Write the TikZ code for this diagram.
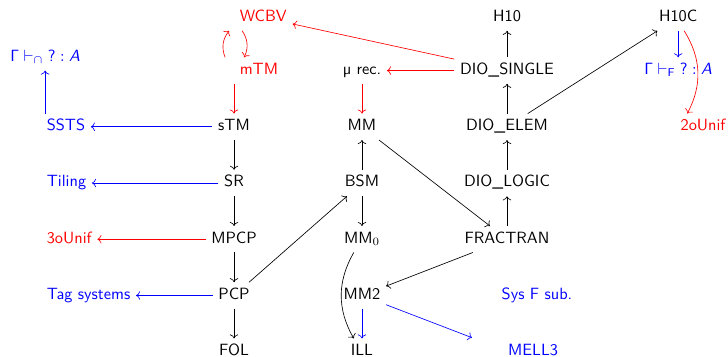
\documentclass[tikz,border=0pt]{standalone}
\usepackage{amsmath,amssymb}
\usepackage{xcolor}
\usepackage{tikz}
\usetikzlibrary{arrows.meta, positioning, calc}

\begin{document}
\begin{tikzpicture}[
    font=\sffamily,
    prob/.style={inner sep=3.33pt, text height=7pt, text depth=2.2pt},
    arr/.style={->},
    rarr/.style={->, red},
    barr/.style={->, blue},
    node distance=34.5pt and 78.5pt, on grid,
]
\useasboundingbox (-143.6pt,-141.2pt) rectangle (303.1pt,77.8pt);

% machines column
\node[prob] (stm) {sTM};
\node[prob, below=of stm] (sr) {SR};
\node[prob, below=of sr] (mpcp) {MPCP};
\node[prob, below=of mpcp] (pcp) {PCP};
\node[prob, below=of pcp] (fol) {FOL};
\node[prob, red, above=of stm, anchor=west] (mtm) {mTM};
\node[prob, red, above=32.5pt of mtm.west, anchor=west] (wcbv) {WCBV};

% left column
\node[prob, blue, left=118.4pt of stm, anchor=west] (ssts) {SSTS};
\node[prob, blue, left=118.4pt of sr, anchor=west] (tiling) {Tiling};
\node[prob, red, left=118.4pt of mpcp, anchor=west] (unif3) {3oUnif};
\node[prob, blue, left=118.4pt of pcp, anchor=west] (tag) {Tag systems};
\node[prob, blue, above=of ssts.west, xshift=2.5pt] (gcap) {$\mathsf{\Gamma}\vdash_{\cap}\textsf{?}:\textsf{\textit{A}}$};

% counter machines
\node[prob, right=of stm] (mm) {MM};
\node[prob, above=of mm] (mu) {µ rec.};
\node[prob, below=of mm] (bsm) {BSM};
\node[prob, below=of bsm] (mmz) {MM$_0$};
\node[prob, below=of mmz] (mm2) {MM2};
\node[prob, below=of mm2] (ill) {ILL};

% diophantine
\node[prob, right=89pt of mm] (dioe) {DIO\_ELEM};
\node[prob, above=of dioe] (dios) {DIO\_SINGLE};
\node[prob, above=32.5pt of dios] (h10) {H10};
\node[prob, below=of dioe] (diol) {DIO\_LOGIC};
\node[prob, below=of diol] (frac) {FRACTRAN};
\node[prob, blue, below right=34.5pt and 18.4pt of frac] (sysf) {Sys F sub.};
\node[prob, blue, below right=69pt and 16pt of frac] (mell) {MELL3};
\coordinate[below left=60.4pt and 21.5pt of frac] (mellin);

% H10C
\node[prob, right=105pt of h10] (h10c) {H10C};
\node[prob, blue, below=32.5pt of h10c] (gf) {$\mathsf{\Gamma}\vdash_{\mathsf{F}}\textsf{?}:\textsf{\textit{A}}$};
\node[prob, red, below right=67pt and 15.3pt of h10c] (unif2) {2oUnif};

\draw[rarr] ([xshift=-5.5pt]mtm.north west) to[bend left=30] ([xshift=-3pt]wcbv.south west);
\draw[rarr] ([xshift=5pt]wcbv.south west) to[bend left=30] ([xshift=6.2pt]mtm.north west);
\draw[rarr] (dios) -- (wcbv);
\draw[rarr] (dios) -- (mu);
\draw[rarr] (mu) -- (mm);
\draw[rarr] (stm.north |- mtm.south) -- (stm);
\draw[barr] (stm) -- (ssts);
\draw[barr] (ssts.north -| gcap) -- (gcap);
\draw[arr] (stm) -- (sr);
\draw[barr] (sr) -- (tiling);
\draw[arr] (sr) -- (mpcp);
\draw[rarr] (mpcp) -- (unif3);
\draw[arr] (mpcp) -- (pcp);
\draw[barr] (pcp) -- (tag);
\draw[arr] (pcp) -- (fol);
\draw[arr] (pcp) -- (bsm);
\draw[arr] (bsm) -- (mm);
\draw[arr] (bsm) -- (mmz);
\draw[arr] ([xshift=-5pt]mmz.south) to[bend right=30] ([xshift=-5pt]ill.north);
\draw[barr] (mm2) -- (ill);
\draw[barr] (mm2) -- (mellin);
\draw[arr] (mm) -- (frac);
\draw[arr] (frac) -- (diol);
\draw[arr] (frac) -- (mm2);
\draw[arr] (diol) -- (dioe);
\draw[arr] (dioe) -- (dios);
\draw[arr] (dios) -- (h10);
\draw[arr] (dioe) -- (h10c);
\draw[barr] (h10c) -- (gf);
\draw[rarr] ([xshift=3.7pt]h10c.south) to[bend left=30] ([xshift=7.6pt]unif2.north west);
\end{tikzpicture}
\end{document}
